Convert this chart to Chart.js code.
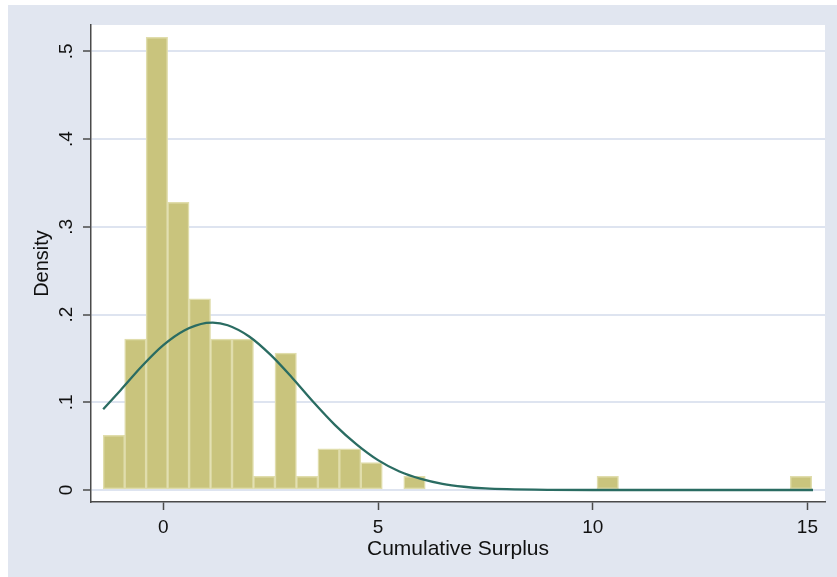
<!DOCTYPE html>
<html>
<head>
<meta charset="utf-8">
<script src="https://cdn.jsdelivr.net/npm/chart.js@4.4.1/dist/chart.umd.min.js"></script>
<style>
    body { margin: 0; background: #ffffff; }
    #myChart { position: absolute; left: 8px; top: 5px; background: rgb(225, 230, 240); }
</style>
</head>
<body>
<canvas id="myChart" width="829" height="572"></canvas>
<script>
// histogram bins (centers) and density heights
const binCenters = [-1.15, -0.65, -0.15, 0.35, 0.85, 1.35, 1.85, 2.35, 2.85, 3.35, 3.85,
    4.35, 4.85, 5.35, 5.85, 6.35, 6.85, 7.35, 7.85, 8.35, 8.85, 9.35, 9.85, 10.35,
    10.85, 11.35, 11.85, 12.35, 12.85, 13.35, 13.85, 14.35, 14.85]
const densities = [0.0624, 0.172, 0.516, 0.328, 0.218, 0.172, 0.172, 0.0156, 0.156, 0.0156, 0.0468,
    0.0468, 0.0312, 0, 0.0156, 0, 0, 0, 0, 0, 0, 0, 0, 0.0156,
    0, 0, 0, 0, 0, 0, 0, 0, 0.0156]

// normal density curve
const curveX = [-1.4, -1, -0.5, 0, 0.5, 1, 1.15, 1.5, 2, 2.5, 3, 3.5, 4, 4.5, 5, 5.5,
    6, 6.5, 7, 7.5, 8, 9, 10, 12, 15.13]
const curveY = [0.092, 0.1135, 0.141, 0.165, 0.182, 0.1904, 0.1908, 0.1878, 0.175, 0.154, 0.128, 0.100,
    0.074, 0.052, 0.034, 0.021, 0.0126, 0.007, 0.0037, 0.0018, 0.0009, 0.0002, 0, 0, 0]

const xTicks = [0, 5, 10, 15]
const yTicks = [0, 0.1, 0.2, 0.3, 0.4, 0.5]
const yTickLabels = ['0', '.1', '.2', '.3', '.4', '.5']

const gridColor = 'rgb(222, 228, 240)'
const axisColor = '#4a4a4a'
const textColor = '#111111'
const fontFamily = '"Liberation Sans", Arial, sans-serif'

//--WHITE PLOT REGION + ROTATED Y TICK LABELS
const plotBg = {
    id: 'plotBg',
    beforeDraw( chart ) {
        const { ctx, chartArea: a } = chart
        ctx.save()
        ctx.fillStyle = '#ffffff'
        ctx.fillRect( a.left, a.top, a.right - a.left, a.bottom - a.top )
        ctx.restore()
    },
    afterDraw( chart ) {
        const { ctx } = chart
        const y = chart.scales.y
        ctx.save()
        ctx.fillStyle = textColor
        ctx.font = '19px ' + fontFamily
        ctx.textAlign = 'center'
        ctx.textBaseline = 'middle'
        y.ticks.forEach( ( t, i ) => {
            const py = y.getPixelForValue( t.value )
            ctx.save()
            ctx.translate( 59, py )
            ctx.rotate( -Math.PI / 2 )
            ctx.fillText( yTickLabels[i], 0, 0 )
            ctx.restore()
        })
        ctx.restore()
    }
}

let myChart
const ctx = document.getElementById('myChart')
myChart = new Chart(ctx, {
    data: {
        datasets: [
            {
                type: 'line',
                data: curveX.map( ( x, i ) => ({ x: x, y: curveY[i] }) ),
                borderColor: 'rgb(42, 108, 98)',
                borderWidth: 2.3,
                pointRadius: 0,
                cubicInterpolationMode: 'monotone',
                order: 0
            },
            {
                type: 'bar',
                data: binCenters.map( ( x, i ) => ({ x: x, y: densities[i] > 0 ? densities[i] : null }) ),
                backgroundColor: 'rgb(201, 196, 125)',
                borderColor: 'rgb(224, 221, 172)',
                borderWidth: 1.5,
                borderSkipped: false,
                barPercentage: 1,
                categoryPercentage: 1,
                order: 1
            }
        ]
    },
    plugins: [ plotBg ],
    options: {
        responsive: false,
        animation: false,
        layout: { padding: { left: 0, top: 20, right: 12, bottom: 0 } },
        plugins: {
            legend: { display: false },
            tooltip: { enabled: false }
        },
        scales: {
            x: {
                type: 'linear',
                offset: false,
                min: -1.684,
                max: 15.41,
                afterFit: ( s ) => { s.height = 75 },
                afterBuildTicks: ( s ) => { s.ticks = xTicks.map( v => ({ value: v }) ) },
                ticks: {
                    color: textColor,
                    font: { family: fontFamily, size: 19 },
                    padding: 6,
                    maxRotation: 0
                },
                grid: {
                    offset: false,
                    drawOnChartArea: false,
                    tickLength: 8,
                    tickColor: axisColor,
                    tickWidth: 1.5
                },
                border: { color: axisColor, width: 1.5 },
                title: {
                    display: true,
                    text: 'Cumulative Surplus',
                    color: textColor,
                    font: { family: fontFamily, size: 21 },
                    padding: { top: 0, bottom: 15 }
                }
            },
            y: {
                type: 'linear',
                min: -0.0137,
                max: 0.530,
                afterFit: ( s ) => { s.width = 83 },
                afterBuildTicks: ( s ) => { s.ticks = yTicks.map( v => ({ value: v }) ) },
                ticks: { display: false },
                grid: {
                    color: gridColor,
                    lineWidth: 2,
                    tickLength: 8,
                    tickColor: axisColor,
                    tickWidth: 1.5
                },
                border: { color: axisColor, width: 1.5 },
                title: {
                    display: true,
                    text: 'Density',
                    color: textColor,
                    font: { family: fontFamily, size: 20 },
                    padding: { top: 22, bottom: 0 }
                }
            }
        }
    }
});
</script>
</body>
</html>
